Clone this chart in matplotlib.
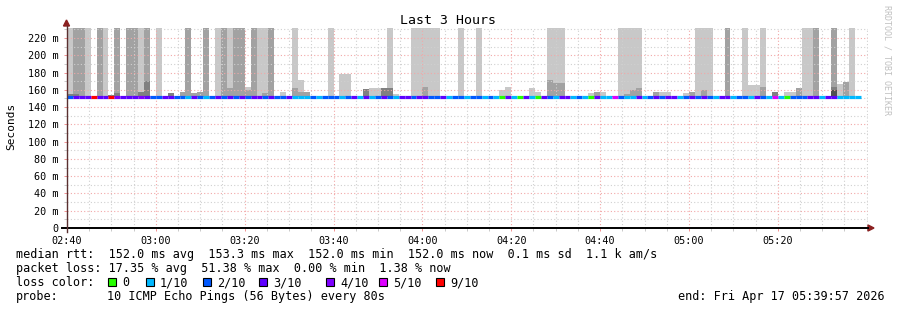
import matplotlib
matplotlib.use('Agg')
import matplotlib.pyplot as plt
import numpy as np
from matplotlib.patches import Rectangle, Polygon
from matplotlib.lines import Line2D

plt.rcParams['font.family'] = 'DejaVu Sans Mono'

W, H = 897, 310
F = 240  # smoke that goes off the top of the graph

# one bar every 80 s, starting 02:40
step = 80 / 60.0
median_ms = 152.0

# loss per bar (lost pings out of 10)
loss = [2, 3, 3, 3, 9, 3, 3, 9, 4, 3,
        3, 3, 4, 3, 2, 2, 3, 3, 2, 2,
        1, 3, 2, 1, 2, 3, 2, 3, 2, 3,
        2, 3, 3, 2, 3, 2, 2, 3, 1, 1,
        1, 2, 1, 2, 2, 2, 1, 2, 3, 1,
        3, 1, 2, 3, 2, 1, 3, 3, 2, 3,
        3, 2, 2, 3, 1, 2, 2, 1, 2, 2,
        1, 2, 1, 0, 3, 1, 0, 3, 1, 0,
        3, 2, 1, 3, 3, 1, 2, 1, 0, 3,
        1, 1, 5, 2, 1, 1, 3, 1, 2, 3,
        2, 3, 3, 1, 2, 3, 2, 3, 2, 1,
        3, 3, 1, 2, 2, 1, 3, 2, 1, 5,
        1, 0, 2, 2, 2, 3, 3, 1, 3, 3,
        1, 1, 1, 1]

# smoke layers (top of each grey band in ms, 0 = none)
light_top = [F, 0, 0, F, 0, 0, F, 0, 0, 0,
             0, 0, F, 0, 0, F, 0, 0, 0, 0,
             0, 0, 0, 0, 0, F, 0, F, 0, 0,
             163, 0, F, F, 0, 0, 158, 0, F, 171,
             0, 0, 0, 0, F, 0, 178, 178, 0, 0,
             0, 162, 162, 0, F, 155, 0, 0, F, F,
             F, F, F, 0, 0, 0, F, 0, 0, F,
             0, 0, 0, 160, 163, 0, 0, 0, 162, 157,
             0, F, F, F, 0, 0, 0, 0, 156, 0,
             157, 0, 0, F, F, F, F, 0, 0, 0,
             158, 158, 0, 0, 156, 0, F, F, F, 0,
             0, 0, 0, 0, F, 166, 166, F, 0, 0,
             0, 157, 158, 0, F, F, 0, 0, 0, 0,
             167, 0, F, 0]

mid_top = [0, F, F, 0, 0, F, 0, 0, F, 0,
           F, F, 0, F, 0, 0, 0, 0, 0, 157,
           F, 156, 157, F, 0, 0, F, 162, F, F,
           160, F, 0, 156, F, 0, 0, 0, 162, 158,
           157, 0, 0, 0, 0, 0, 0, 0, 0, 0,
           0, 0, 0, 0, 0, 0, 0, 0, 0, 0,
           163, 0, 0, 0, 0, 0, 0, 0, 0, 0,
           0, 0, 0, 0, 0, 0, 0, 0, 0, 0,
           0, 171, 168, 168, 0, 0, 0, 0, 0, 157,
           0, 0, 0, 0, 155, 160, 162, 0, 0, 157,
           0, 0, 0, 0, 0, 157, 0, 160, 0, 0,
           0, F, 0, 0, 0, 0, 0, 163, 0, 0,
           0, 0, 0, 162, 0, 0, F, 0, 0, F,
           0, 169, 0, 0]

dark_top = [155, 155, 0, 0, 0, 0, 0, 154, 156, 0,
            0, 0, 157, 170, 0, 0, 0, 156, 0, 0,
            0, 0, 0, 0, 0, 0, 0, 0, 0, 0,
            0, 0, 0, 0, 0, 0, 0, 0, 0, 0,
            0, 0, 0, 0, 0, 0, 0, 0, 0, 0,
            161, 0, 0, 162, 162, 0, 0, 0, 0, 0,
            0, 0, 0, 0, 0, 0, 0, 0, 0, 0,
            0, 0, 0, 0, 0, 0, 0, 0, 0, 0,
            0, 0, 0, 0, 0, 0, 0, 0, 0, 0,
            0, 0, 153, 0, 0, 0, 0, 0, 0, 0,
            0, 0, 0, 0, 0, 0, 0, 0, 0, 0,
            0, 0, 0, 0, 0, 0, 0, 0, 0, 157,
            0, 0, 0, 0, 0, 0, 0, 0, 0, 163,
            0, 0, 0, 0]

darkest_top = [0] * 129 + [160, 0, 0, 0, 0]

loss_colors = {0: '#26ff00', 1: '#00b8ff', 2: '#0059ff', 3: '#5e00ff',
               4: '#7e00ff', 5: '#dd00ff', 9: '#ff0000'}
legend_loss = [0, 1, 2, 3, 4, 5, 9]
legend_labels = ['0', '1/10', '2/10', '3/10', '4/10', '5/10', '9/10']
legend_sq_x = [108, 146, 203, 259, 326, 379, 436]

xtick_labels = ['02:40', '03:00', '03:20', '03:40', '04:00', '04:20', '04:40', '05:00', '05:20']
ytick_vals = list(range(0, 221, 20))

n = len(loss)
t = np.arange(n) * step


def fx(x):
    return x / W


def fy(y):
    return 1 - y / H


fig = plt.figure(figsize=(W / 100, H / 100), dpi=100)
fig.patch.set_facecolor('white')
ax = fig.add_axes([fx(67), fy(228), (868 - 67) / W, (228 - 28) / H])
ax.set_xlim(0, 180.3)
ax.set_ylim(0, 231.6)

greys = [(light_top, '#c8c8c8'), (mid_top, '#a2a2a2'),
         (dark_top, '#808080'), (darkest_top, '#505050')]
for tops, col in greys:
    tops = np.array(tops, dtype=float)
    m = tops > 0
    ax.bar(t[m], tops[m] - median_ms, bottom=median_ms, width=step,
           align='edge', color=col, linewidth=0, zorder=1)

ax.hlines([median_ms] * n, t, t + step, colors=[loss_colors[l] for l in loss],
          linewidth=2.3, zorder=4, capstyle='butt')

# grid
ax.set_xticks(np.arange(0, 161, 20))
ax.set_xticks(np.arange(0, 181, 5), minor=True)
ax.set_xticklabels(xtick_labels)
ax.set_yticks(ytick_vals)
ax.set_yticks(np.arange(0, 231, 10), minor=True)
ax.set_yticklabels([('%d m' % v) if v else '0' for v in ytick_vals])
ax.set_axisbelow(False)
ax.grid(which='minor', color='#d0d0d0', linestyle=(0, (1, 2)), linewidth=0.8)
ax.grid(which='major', color='#f2a8a8', linestyle=(0, (1, 2)), linewidth=0.8)
ax.tick_params(which='both', length=2, width=0.6, color='#f08080', labelsize=7.3, pad=4)
ax.tick_params(which='minor', color='#c0c0c0')
for s in ax.spines.values():
    s.set_visible(False)

# axes with arrows
fig.add_artist(Line2D([fx(62), fx(868)], [fy(228), fy(228)], color='black', lw=1.4))
fig.add_artist(Line2D([fx(66.5), fx(66.5)], [fy(232), fy(26)], color='#5a3030', lw=1.0))
fig.add_artist(Polygon([(fx(868), fy(225)), (fx(874), fy(228)), (fx(868), fy(231))],
                       closed=True, color='#8b2020', transform=fig.transFigure))
fig.add_artist(Polygon([(fx(63.5), fy(26)), (fx(66.5), fy(20)), (fx(69.5), fy(26))],
                       closed=True, color='#8b2020', transform=fig.transFigure))

# title and labels
fig.text(fx(448), fy(24), 'Last 3 Hours', ha='center', va='baseline', fontsize=9.5)
fig.text(fx(11), fy(126), 'Seconds', rotation=90, ha='center', va='center', fontsize=8)
fig.text(fx(887), fy(5), 'RRDTOOL / TOBI OETIKER', rotation=270, ha='center', va='top',
         fontsize=6, color='#c0c0c0')

# legend block
fs = 8.5
fig.text(fx(16), fy(258), 'median rtt:  152.0 ms avg  153.3 ms max  152.0 ms min  '
         '152.0 ms now  0.1 ms sd  1.1 k am/s', va='baseline', fontsize=fs)
fig.text(fx(16), fy(272), 'packet loss: 17.35 % avg  51.38 % max  0.00 % min  1.38 % now',
         va='baseline', fontsize=fs)
fig.text(fx(16), fy(286), 'loss color:', va='baseline', fontsize=fs)
for l, lab, sx in zip(legend_loss, legend_labels, legend_sq_x):
    fig.add_artist(Rectangle((fx(sx), fy(286)), 8 / W, 8 / H, transform=fig.transFigure,
                             facecolor=loss_colors[l], edgecolor='black', lw=0.8))
    fig.text(fx(sx + 14), fy(286), lab, va='baseline', fontsize=fs)
fig.text(fx(16), fy(300), 'probe:', va='baseline', fontsize=fs)
fig.text(fx(107), fy(300), '10 ICMP Echo Pings (56 Bytes) every 80s', va='baseline', fontsize=fs)
fig.text(fx(678), fy(300), 'end: Fri Apr 17 05:39:57 2026', va='baseline', fontsize=fs)

fig.savefig('out.png', dpi=100, facecolor='white')
